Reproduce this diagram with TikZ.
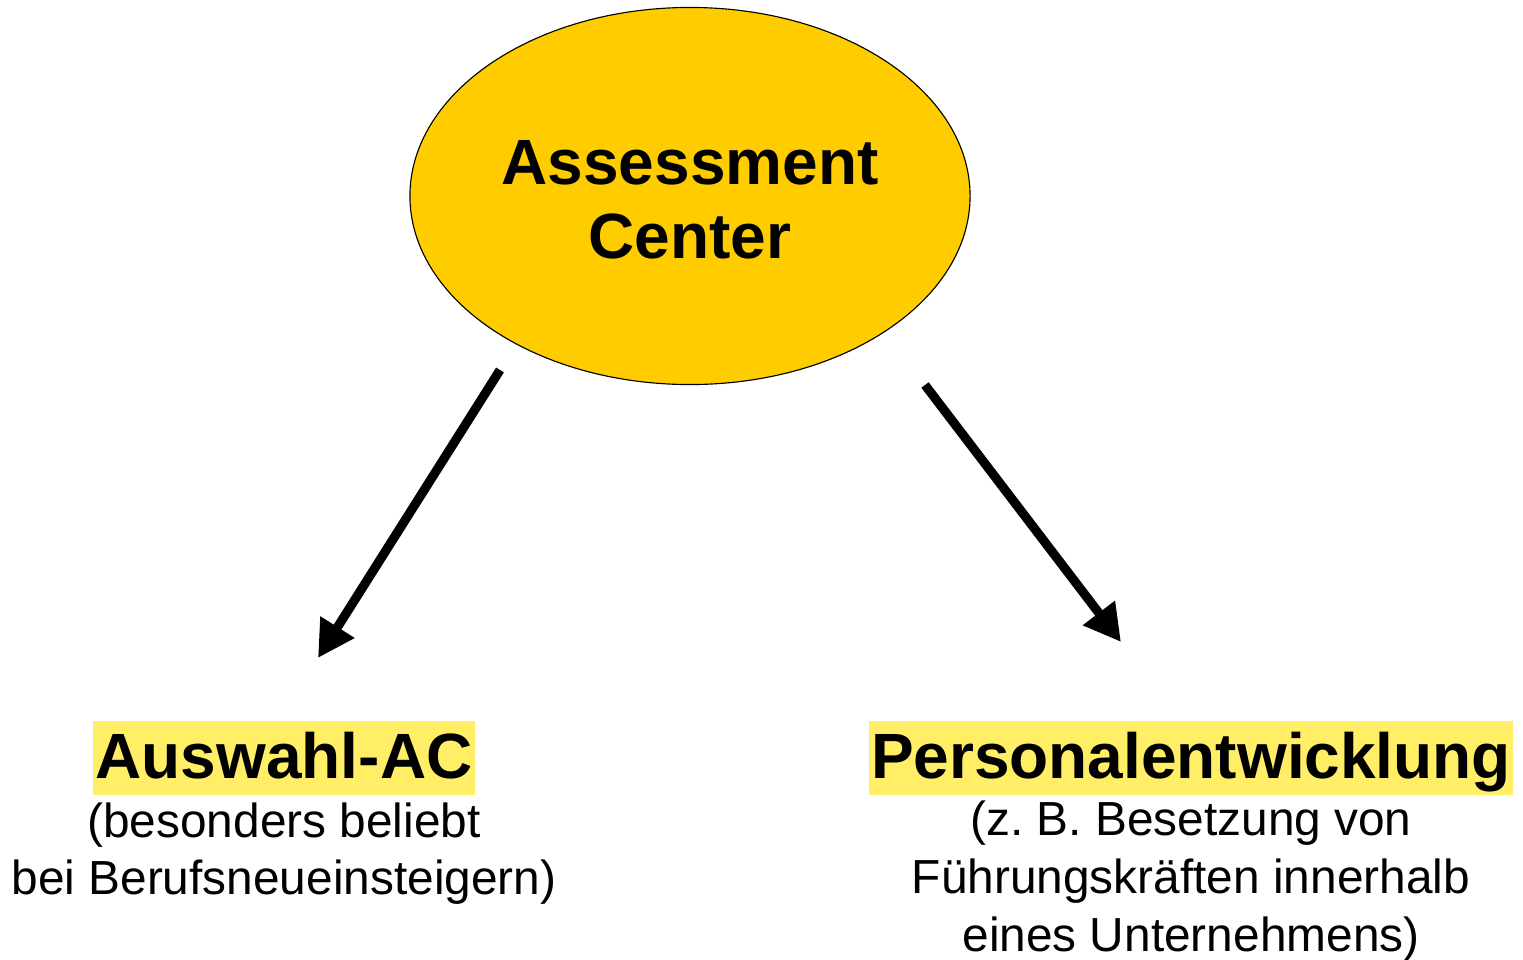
\documentclass[tikz,border=0pt]{standalone}
\usepackage{fontspec}
\setmainfont{Liberation Sans}
\frenchspacing
\usetikzlibrary{arrows.meta,positioning,shapes.geometric}
\definecolor{acgold}{HTML}{FFCC00}
\definecolor{marker}{HTML}{FFEE66}
\tikzset{
  pfeil/.style={line width=6.5pt, -{Triangle[length=26pt,width=27pt]}},
  titel/.style={font=\fontsize{45.5}{53}\selectfont\bfseries, text height=37.5pt, text depth=9pt, inner xsep=1.5pt, inner ysep=3pt},
  notiz/.style={font=\fontsize{34}{41}\selectfont, align=center, inner sep=0pt}
}
\begin{document}
\begin{tikzpicture}[x=0.025cm, y=-0.025cm]
    \useasboundingbox (0,0) rectangle (1523,959);

    % Assessment Center
    \node[ellipse, draw, line width=0.8pt, fill=acgold, minimum width=14cm, minimum height=9.425cm, inner sep=0pt] (ac) at (690,196) {};
    \node[font=\fontsize{45.5}{53}\selectfont\bfseries, align=center] (actext) at (690,200) {Assessment\\Center};

    % Auswahl-AC
    \node[titel, fill=marker, anchor=base] (sel) at (284,778) {Auswahl-AC};
    \node[notiz, below=5pt of sel] (selnote) {(besonders beliebt\\bei Berufsneueinsteigern)};

    % Personalentwicklung
    \node[titel, fill=marker, anchor=base] (dev) at (1191,778) {Personalentwicklung};
    \node[notiz, below=4pt of dev] (devnote) {(z. B. Besetzung von\\Führungskräften innerhalb\\eines Unternehmens)};

    % Pfeile
    \coordinate (selstart) at (500,370);
    \coordinate (selend) at (318,658);
    \coordinate (devstart) at (925,385);
    \coordinate (devend) at (1121,642);
    \draw[pfeil] (selstart) -- (selend);
    \draw[pfeil] (devstart) -- (devend);
\end{tikzpicture}
\end{document}
